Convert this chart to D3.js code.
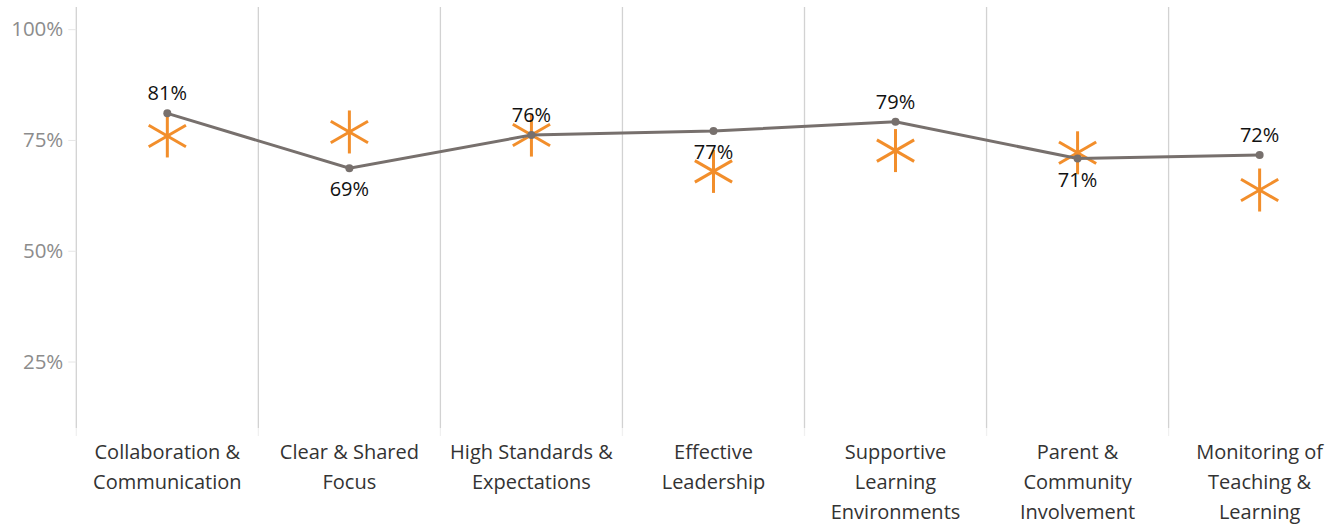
<!DOCTYPE html>
<html><head><meta charset="utf-8">
<script src="https://cdn.jsdelivr.net/npm/d3@7"></script>
<style>
html,body{margin:0;padding:0;background:#fff;}
svg{display:block;font-family:"Open Sans",Lato,sans-serif;}
</style></head>
<body>
<svg id="chart" width="1328" height="526"></svg>
<script>
const categories = [
  ["Collaboration &","Communication"],
  ["Clear & Shared","Focus"],
  ["High Standards &","Expectations"],
  ["Effective","Leadership"],
  ["Supportive","Learning","Environments"],
  ["Parent &","Community","Involvement"],
  ["Monitoring of","Teaching &","Learning"]
];
const schoolValues = [0.810, 0.686, 0.761, 0.770, 0.791, 0.708, 0.716];
const benchmarkValues = [0.759, 0.768, 0.761, 0.679, 0.726, 0.721, 0.637];
const labelPositions = ["above","below","above","below","above","below","above"];
const yTicks = [0.25, 0.5, 0.75, 1.0];

(function(){
const svg = d3.select("#chart");
const mLeft = 76.3, mTop = 7, mBottom = 428;
const step = 182.05;
const x = d3.scaleBand().domain(d3.range(categories.length))
  .range([mLeft, mLeft + step * categories.length]).padding(0);
const y = d3.scaleLinear().domain([0.10, 1.05]).range([mBottom, mTop]);
const cx = i => x(i) + x.bandwidth() / 2;

// column separators
svg.append("g").selectAll("line").data(d3.range(categories.length))
  .join("line")
  .attr("x1", i => x(i)).attr("x2", i => x(i))
  .attr("y1", mTop).attr("y2", mBottom)
  .attr("stroke", "#d2d2d2").attr("stroke-width", 1.3);
svg.append("g").selectAll("line").data(d3.range(categories.length))
  .join("line")
  .attr("x1", i => x(i)).attr("x2", i => x(i))
  .attr("y1", mBottom).attr("y2", mBottom + 8)
  .attr("stroke", "#f0f0f0").attr("stroke-width", 1.3);

// y axis
const yAxis = d3.axisLeft(y).tickValues(yTicks).tickFormat(d3.format(".0%"))
  .tickSize(8).tickPadding(5);
const gy = svg.append("g").attr("transform", `translate(${mLeft},0)`).call(yAxis);
gy.select(".domain").remove();
gy.selectAll(".tick line").attr("stroke", "#e6e6e6");
gy.selectAll(".tick text").attr("fill", "#8c8c8c")
  .style("font-size", "20.5px").style("font-family", "'Open Sans',sans-serif");

// x labels
const gx = svg.append("g");
categories.forEach((lines, i) => {
  const t = gx.append("text").attr("x", cx(i)).attr("y", 459)
    .attr("text-anchor", "middle").attr("fill", "#333")
    .style("font-size", "20px");
  lines.forEach((ln, k) => {
    t.append("tspan").attr("x", cx(i)).attr("dy", k === 0 ? 0 : 30).text(ln);
  });
});

// benchmark asterisks
const arm = 21.5;
const ast = svg.append("g");
benchmarkValues.forEach((v, i) => {
  const g = ast.append("g").attr("transform", `translate(${cx(i)},${y(v)})`);
  [90, 30, -30].forEach(a => {
    const r = a * Math.PI / 180;
    g.append("line")
      .attr("x1", -arm * Math.cos(r)).attr("y1", -arm * Math.sin(r))
      .attr("x2", arm * Math.cos(r)).attr("y2", arm * Math.sin(r))
      .attr("stroke", "#f28e2b").attr("stroke-width", 3);
  });
});

// school line
const line = d3.line().x((d, i) => cx(i)).y(d => y(d));
svg.append("path").datum(schoolValues).attr("d", line)
  .attr("fill", "none").attr("stroke", "#77706d").attr("stroke-width", 3);
svg.append("g").selectAll("circle").data(schoolValues).join("circle")
  .attr("cx", (d, i) => cx(i)).attr("cy", d => y(d)).attr("r", 4)
  .attr("fill", "#77706d");

// labels
svg.append("g").selectAll("text").data(schoolValues).join("text")
  .attr("x", (d, i) => cx(i))
  .attr("y", (d, i) => y(d) + (labelPositions[i] === "above" ? -13 : 28))
  .attr("text-anchor", "middle").attr("fill", "#111")
  .style("font-size", "20px")
  .text(d => d3.format(".0%")(d));
})();
</script>
</body></html>
